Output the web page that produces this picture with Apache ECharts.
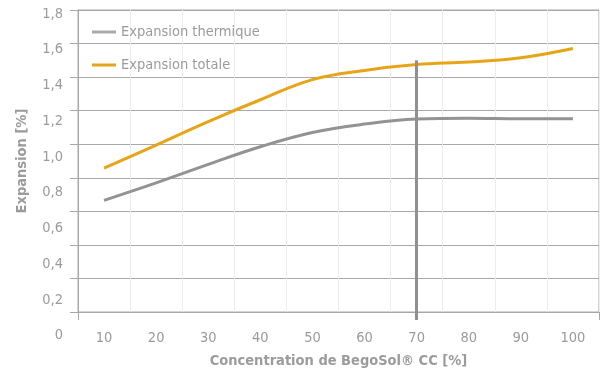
<!DOCTYPE html>
<html>
<head>
<meta charset="utf-8">
<script src="https://cdn.jsdelivr.net/npm/echarts@6/dist/echarts.min.js"></script>
<style>
  html, body { margin: 0; padding: 0; background: #fff; }
  #chart { width: 601px; height: 374px; }
</style>
</head>
<body>
<div id="chart"></div>
<script>
const concentrations = ['10', '20', '30', '40', '50', '60', '70', '80', '90', '100'];
const thermique = [0.665, 0.77, 0.88, 0.985, 1.07, 1.12, 1.15, 1.155, 1.152, 1.152];
const totale = [0.857, 0.995, 1.135, 1.265, 1.385, 1.44, 1.475, 1.49, 1.515, 1.57];
const markerAt = '70';
const markerTop = 1.5;

const font = '"Liberation Sans Narrow", "DejaVu Sans Condensed", sans-serif';
const textGray = '#9b9b9b';
const gridGray = '#a8a8a8';
const markerGray = '#8f8f94';

const chart = echarts.init(document.getElementById('chart'));

chart.setOption({
    animation: false,
    textStyle: { fontFamily: font },
    grid: [
        { left: 78, right: 2, top: 10, bottom: 58, show: true, borderColor: gridGray, borderWidth: 1 },
        // label-only grid: the tick labels sit a bit lower than their gridlines
        { left: 78, right: 2, top: 14, bottom: 38.5 },
    ],
    legend: {
        orient: 'vertical',
        left: 87,
        top: 19,
        itemWidth: 24,
        itemHeight: 3,
        itemGap: 17,
        icon: 'rect',
        textStyle: { color: textGray, fontSize: 14.5, fontFamily: font, lineHeight: 16 },
        data: ['Expansion thermique', 'Expansion totale'],
    },
    xAxis: [
        {
            type: 'category',
            gridIndex: 0,
            data: concentrations,
            boundaryGap: true,
            name: 'Concentration de BegoSol® CC [%]',
            nameLocation: 'middle',
            nameGap: 42,
            nameTextStyle: { color: textGray, fontSize: 14.5, fontWeight: 'bold', fontFamily: font },
            axisLine: { lineStyle: { color: gridGray } },
            axisTick: { show: true, length: 8, interval: (i) => i === 0, lineStyle: { color: gridGray } },
            axisLabel: { color: textGray, fontSize: 14.5, margin: 19, fontFamily: font },
            splitLine: { show: true, lineStyle: { color: '#ededed' } },
        },
        { type: 'category', gridIndex: 1, data: concentrations, show: false },
        // the marker line runs a tick's length past the axis
        {
            type: 'category',
            gridIndex: 0,
            position: 'bottom',
            data: concentrations,
            axisLine: { show: false },
            axisLabel: { show: false },
            splitLine: { show: false },
            axisTick: {
                show: true,
                alignWithLabel: true,
                length: 8,
                interval: (i, v) => v === markerAt,
                lineStyle: { color: markerGray, width: 3 },
            },
        },
    ],
    yAxis: [
        {
            type: 'value',
            gridIndex: 0,
            min: 0,
            max: 1.8,
            interval: 0.2,
            name: 'Expansion [%]',
            nameLocation: 'middle',
            nameGap: 48,
            nameTextStyle: { color: textGray, fontSize: 14.5, fontWeight: 'bold', fontFamily: font },
            axisLine: { show: true, lineStyle: { color: gridGray } },
            axisTick: { show: true, length: 8, lineStyle: { color: gridGray } },
            axisLabel: { show: false },
            splitLine: { lineStyle: { color: gridGray } },
        },
        {
            type: 'value',
            gridIndex: 1,
            min: 0,
            max: 1.8,
            interval: 0.2,
            axisLine: { show: false },
            axisTick: { show: false },
            splitLine: { show: false },
            axisLabel: {
                color: textGray,
                fontSize: 14.5,
                margin: 15,
                fontFamily: font,
                formatter: (v) => (v === 0 ? '0' : v.toFixed(1).replace('.', ',')),
            },
        },
    ],
    series: [
        {
            name: 'Expansion thermique',
            type: 'line',
            xAxisIndex: 0,
            yAxisIndex: 0,
            data: thermique,
            smooth: 0.4,
            symbol: 'none',
            color: '#aaaaaa',
            lineStyle: { color: '#939395', width: 3 },
            markLine: {
                silent: true,
                symbol: 'none',
                z: 10,
                label: { show: false },
                lineStyle: { color: markerGray, width: 3, type: 'solid' },
                data: [[{ coord: [markerAt, markerTop] }, { coord: [markerAt, 0] }]],
            },
        },
        {
            name: 'Expansion totale',
            type: 'line',
            xAxisIndex: 0,
            yAxisIndex: 0,
            data: totale,
            smooth: 0.4,
            symbol: 'none',
            color: '#e6a517',
            lineStyle: { color: '#e6a517', width: 3 },
        },
    ],
});
</script>
</body>
</html>
